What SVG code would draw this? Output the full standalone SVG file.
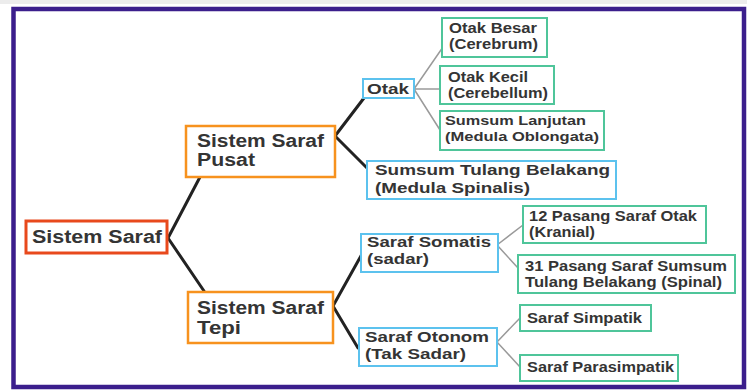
<svg xmlns="http://www.w3.org/2000/svg" width="747" height="391" viewBox="0 0 747 391">
<style>
.t{font-family:"Liberation Sans",Arial,sans-serif;font-weight:bold;fill:#343434}
.f18{font-size:18px}
.f15{font-size:15.5px}
.f14{font-size:14px}
.f13{font-size:13.5px}
.box{fill:#fff}
.red{stroke:#e8491c;stroke-width:3}
.org{stroke:#f7921e;stroke-width:2.5}
.blu{stroke:#5cc2ee;stroke-width:2}
.grn{stroke:#4fc59a;stroke-width:2}
.bk{stroke:#222;stroke-width:3;fill:none;stroke-linecap:round}
.gy{stroke:#9a9a9a;stroke-width:1.5;fill:none}
</style>
<rect x="0" y="0" width="747" height="391" fill="#fff"/>
<rect x="0" y="0" width="747" height="4" fill="#ececec"/>
<rect id="frame" x="13.5" y="9" width="730.5" height="378" fill="#fff" stroke="#3b1e8c" stroke-width="4.5"/>

<g id="connectors">
<path class="bk" d="M168,238 L200,177 M168,238 L204,291"/>
<path class="bk" d="M335,136 L364,98 M335,136 L367,168"/>
<path class="bk" d="M333,306 L362,254 M333,306 L358,348"/>
<path class="gy" d="M414,89 L443,47 M414,89 L440,89 M414,89 L440,130"/>
<path class="gy" d="M497,245 L523,225 M497,245 L518,268"/>
<path class="gy" d="M497,342 L520,318 M497,342 L520,367"/>
</g>

<g id="sistem-saraf">
<rect class="box red" x="26" y="221" width="141" height="32"/>
<text class="t f18" x="32" y="243" textLength="130" lengthAdjust="spacingAndGlyphs">Sistem Saraf</text>
</g>
<g id="sistem-saraf-pusat">
<rect class="box org" x="186" y="126" width="149" height="51"/>
<text class="t f18" x="197" y="147" textLength="127" lengthAdjust="spacingAndGlyphs">Sistem Saraf</text>
<text class="t f18" x="197" y="166" textLength="58" lengthAdjust="spacingAndGlyphs">Pusat</text>
</g>
<g id="sistem-saraf-tepi">
<rect class="box org" x="188" y="292" width="145" height="51"/>
<text class="t f18" x="197" y="314" textLength="127" lengthAdjust="spacingAndGlyphs">Sistem Saraf</text>
<text class="t f18" x="197" y="334" textLength="44" lengthAdjust="spacingAndGlyphs">Tepi</text>
</g>
<g id="otak">
<rect class="box blu" x="363" y="79" width="51" height="19"/>
<text class="t f15" x="367" y="94" textLength="42" lengthAdjust="spacingAndGlyphs">Otak</text>
</g>
<g id="sumsum-tulang-belakang">
<rect class="box blu" x="367" y="161" width="249" height="38"/>
<text class="t f15" x="375" y="175" textLength="235" lengthAdjust="spacingAndGlyphs">Sumsum Tulang Belakang</text>
<text class="t f15" x="375" y="193" textLength="155" lengthAdjust="spacingAndGlyphs">(Medula Spinalis)</text>
</g>
<g id="saraf-somatis">
<rect class="box blu" x="361" y="234" width="137" height="38"/>
<text class="t f15" x="367" y="247" textLength="124" lengthAdjust="spacingAndGlyphs">Saraf Somatis</text>
<text class="t f15" x="367" y="264" textLength="62" lengthAdjust="spacingAndGlyphs">(sadar)</text>
</g>
<g id="saraf-otonom">
<rect class="box blu" x="359" y="328" width="138" height="38"/>
<text class="t f15" x="365" y="342" textLength="124" lengthAdjust="spacingAndGlyphs">Saraf Otonom</text>
<text class="t f15" x="365" y="359" textLength="101" lengthAdjust="spacingAndGlyphs">(Tak Sadar)</text>
</g>
<g id="otak-besar">
<rect class="box grn" x="442" y="18" width="105" height="39"/>
<text class="t f14" x="449" y="33" textLength="88" lengthAdjust="spacingAndGlyphs">Otak Besar</text>
<text class="t f14" x="449" y="48.5" textLength="89" lengthAdjust="spacingAndGlyphs">(Cerebrum)</text>
</g>
<g id="otak-kecil">
<rect class="box grn" x="440" y="66" width="114" height="38"/>
<text class="t f14" x="448" y="81.5" textLength="80" lengthAdjust="spacingAndGlyphs">Otak Kecil</text>
<text class="t f14" x="448" y="97.5" textLength="100" lengthAdjust="spacingAndGlyphs">(Cerebellum)</text>
</g>
<g id="sumsum-lanjutan">
<rect class="box grn" x="440" y="111" width="164" height="39"/>
<text class="t f13" x="445" y="124.5" textLength="141" lengthAdjust="spacingAndGlyphs">Sumsum Lanjutan</text>
<text class="t f13" x="445" y="140.5" textLength="154" lengthAdjust="spacingAndGlyphs">(Medula Oblongata)</text>
</g>
<g id="saraf-otak-12">
<rect class="box grn" x="523" y="206" width="183" height="37"/>
<text class="t f14" x="529" y="221" textLength="168" lengthAdjust="spacingAndGlyphs">12 Pasang Saraf Otak</text>
<text class="t f14" x="529" y="237" textLength="66" lengthAdjust="spacingAndGlyphs">(Kranial)</text>
</g>
<g id="saraf-sumsum-31">
<rect class="box grn" x="518" y="255" width="217" height="38"/>
<text class="t f14" x="525" y="270.5" textLength="202" lengthAdjust="spacingAndGlyphs">31 Pasang Saraf Sumsum</text>
<text class="t f14" x="525" y="286.5" textLength="197" lengthAdjust="spacingAndGlyphs">Tulang Belakang (Spinal)</text>
</g>
<g id="saraf-simpatik">
<rect class="box grn" x="520" y="305" width="131" height="26"/>
<text class="t f14" x="527" y="323" textLength="115" lengthAdjust="spacingAndGlyphs">Saraf Simpatik</text>
</g>
<g id="saraf-parasimpatik">
<rect class="box grn" x="520" y="355" width="158" height="26"/>
<text class="t f14" x="527" y="372" textLength="147" lengthAdjust="spacingAndGlyphs">Saraf Parasimpatik</text>
</g>
</svg>
